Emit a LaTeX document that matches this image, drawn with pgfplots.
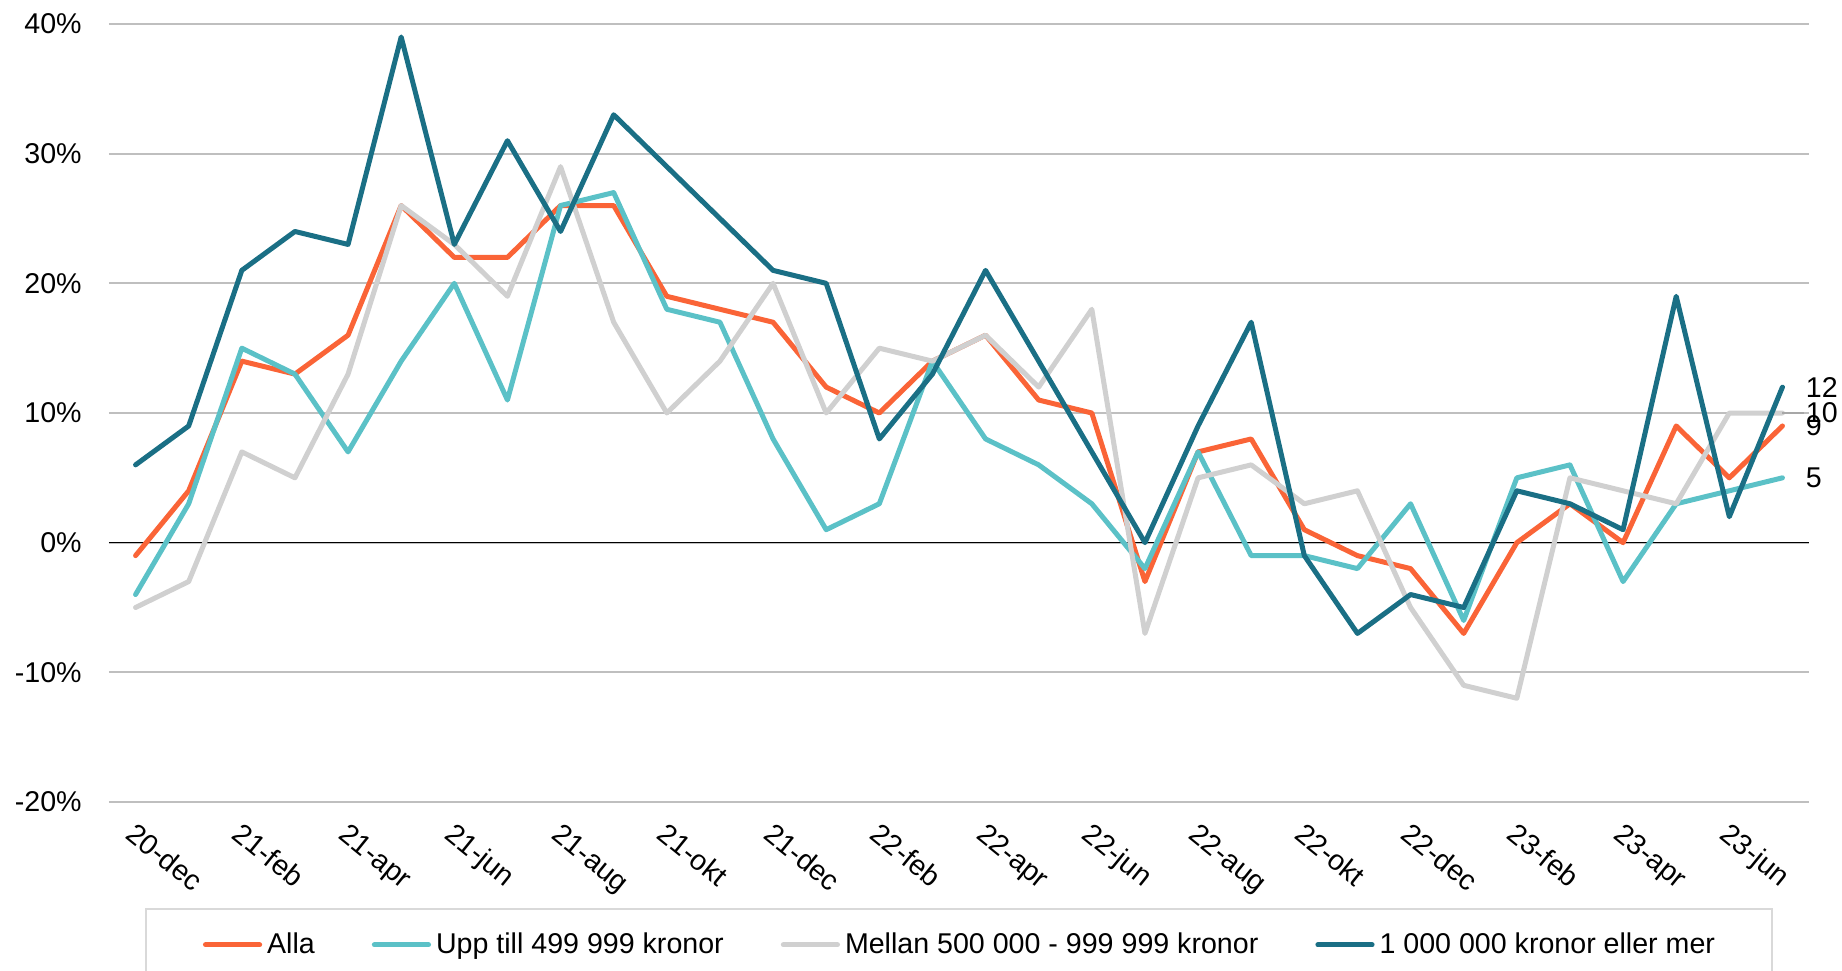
\documentclass[border=0pt]{standalone}
\usepackage{fontspec}
\setmainfont{Liberation Sans}
\usepackage{pgfplots}
\pgfplotsset{compat=1.18}

\definecolor{alla}{RGB}{250,100,55}
\definecolor{upp}{RGB}{91,193,199}
\definecolor{mellan}{RGB}{208,208,208}
\definecolor{miljon}{RGB}{26,111,133}
\definecolor{gridgray}{RGB}{191,191,191}
\definecolor{legendgray}{RGB}{217,217,217}

\begin{document}
\begin{tikzpicture}[font=\fontsize{14.3}{17}\selectfont]
\begin{axis}[
    name=ax,
    width=850pt, height=389pt, scale only axis,
    xmin=-0.5, xmax=31.5, ymin=-20, ymax=40,
    axis line style={draw=none},
    major tick length=0pt,
    ytick={-20,-10,...,40},
    yticklabels={-20\%,-10\%,0\%,10\%,20\%,30\%,40\%},
    ymajorgrids, grid style={gridgray, line width=1pt},
    xtick={0,2,...,30},
    xticklabels={20-dec,21-feb,21-apr,21-jun,21-aug,21-okt,21-dec,22-feb,
        22-apr,22-jun,22-aug,22-okt,22-dec,23-feb,23-apr,23-jun},
    yticklabel style={anchor=east, inner sep=0pt, xshift=-13.5pt},
    xticklabel style={inner sep=0pt,
        xshift=1pt, yshift=-9.5pt, rotate=-39, anchor=north west},
    clip=false,
    legend columns=4,
    legend style={draw=legendgray, line width=1pt, at={(0.5,-0.1362)}, anchor=north,
        inner xsep=28.5pt, inner ysep=12pt, nodes={inner sep=0pt},
        /tikz/every odd column/.append style={column sep=2.5pt},
        /tikz/every even column/.append style={column sep=28.5pt}},
    legend image code/.code={\draw[#1, line width=2.6pt, line cap=round] (0pt,0pt) -- (27pt,0pt);},
    every axis plot/.append style={line width=2.5pt, line join=round, line cap=round},
]
\draw[black, line width=0.7pt] (axis cs:-0.5,0) -- (axis cs:31.5,0);

% Alla
\addplot[alla] coordinates {
    (0,-1) (1,4) (2,14) (3,13) (4,16) (5,26) (6,22) (7,22) (8,26) (9,26)
    (10,19) (11,18) (12,17) (13,12) (14,10) (15,14) (16,16) (17,11) (18,10) (19,-3)
    (20,7) (21,8) (22,1) (23,-1) (24,-2) (25,-7) (26,0) (27,3) (28,0) (29,9)
    (30,5) (31,9)
};
\addlegendentry{Alla}

% Upp till 499 999 kronor
\addplot[upp] coordinates {
    (0,-4) (1,3) (2,15) (3,13) (4,7) (5,14) (6,20) (7,11) (8,26) (9,27)
    (10,18) (11,17) (12,8) (13,1) (14,3) (15,14) (16,8) (17,6) (18,3) (19,-2)
    (20,7) (21,-1) (22,-1) (23,-2) (24,3) (25,-6) (26,5) (27,6) (28,-3) (29,3)
    (30,4) (31,5)
};
\addlegendentry{Upp till 499 999 kronor}

% Mellan 500 000 - 999 999 kronor
\addplot[mellan] coordinates {
    (0,-5) (1,-3) (2,7) (3,5) (4,13) (5,26) (6,23) (7,19) (8,29) (9,17)
    (10,10) (11,14) (12,20) (13,10) (14,15) (15,14) (16,16) (17,12) (18,18) (19,-7)
    (20,5) (21,6) (22,3) (23,4) (24,-5) (25,-11) (26,-12) (27,5) (28,4) (29,3)
    (30,10) (31,10)
};
\addlegendentry{Mellan 500 000 - 999 999 kronor}

% 1 000 000 kronor eller mer
\addplot[miljon] coordinates {
    (0,6) (1,9) (2,21) (3,24) (4,23) (5,39) (6,23) (7,31) (8,24) (9,33)
    (10,29) (11,25) (12,21) (13,20) (14,8) (15,13) (16,21) (17,14) (18,7) (19,0)
    (20,9) (21,17) (22,-1) (23,-7) (24,-4) (25,-5) (26,4) (27,3) (28,1) (29,19)
    (30,2) (31,12)
};
\addlegendentry{1 000 000 kronor eller mer}

% end labels
\draw[mellan!80!black, line width=0.6pt] (axis cs:31,10) -- ++(11pt,0pt);
\node[anchor=west, inner sep=0pt, xshift=11.5pt] at (axis cs:31,12) {12};
\node[anchor=west, inner sep=0pt, xshift=11.5pt] at (axis cs:31,10) {10};
\node[anchor=west, inner sep=0pt, xshift=11.5pt] at (axis cs:31,9) {9};
\node[anchor=west, inner sep=0pt, xshift=11.5pt] at (axis cs:31,5) {5};
\end{axis}
\pgfresetboundingbox
\path[use as bounding box] ([shift={(-54.5pt,-84pt)}]ax.south west) rectangle ([shift={(16.5pt,12pt)}]ax.north east);
\end{tikzpicture}
\end{document}
